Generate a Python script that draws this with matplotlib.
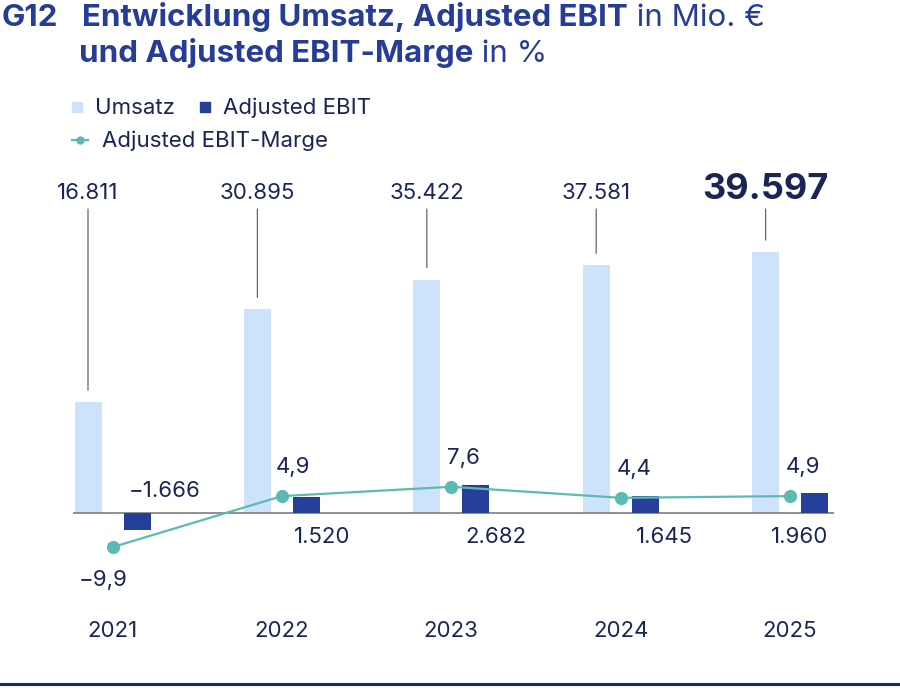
import matplotlib
matplotlib.use("Agg")
import matplotlib.pyplot as plt
from matplotlib.lines import Line2D
from matplotlib.patches import Rectangle
from matplotlib.transforms import blended_transform_factory

plt.rcParams['font.family'] = ['Inter', 'DejaVu Sans']

# --- Daten ---
jahre = ['2021', '2022', '2023', '2024', '2025']
umsatz = [16811, 30895, 35422, 37581, 39597]
ebit = [-1666, 1520, 2682, 1645, 1960]
marge = [-9.9, 4.9, 7.6, 4.4, 4.9]
umsatz_lbl = ['16.811', '30.895', '35.422', '37.581', '39.597']
ebit_lbl = ['\u22121.666', '1.520', '2.682', '1.645', '1.960']
marge_lbl = ['\u22129,9', '4,9', '7,6', '4,4', '4,9']

# --- Farben ---
C_UMSATZ = '#cce3fb'
C_EBIT = '#253f9b'
C_MARGE = '#5dbab2'
C_TITLE = '#263d98'
C_TEXT = '#1a2456'
C_GREY = '#7d7d7d'

W, H = 900, 692
fig = plt.figure(figsize=(W / 100, H / 100), dpi=100)
fig.patch.set_facecolor('white')

def fx(px):
    return px / W

def fy(py):
    return 1 - py / H

# Achse: Pixel 73..834 horizontal, 150..600 vertikal, Nulllinie bei 513
ax_l, ax_r, ax_t, ax_b, y0 = 73, 834, 150, 600, 513
ax = fig.add_axes([fx(ax_l), fy(ax_b), fx(ax_r - ax_l), (ax_b - ax_t) / H])
ax2 = ax.twinx()
ax3 = ax.twinx()

grp = 169.4  # px je Gruppe
first = 112.5
ax.set_xlim((ax_l - first) / grp, (ax_r - first) / grp)

below, above = ax_b - y0, y0 - ax_t
for a, scale in ((ax, 0.00659), (ax2, 0.0103), (ax3, 3.45)):
    a.set_ylim(-below / scale, above / scale)
    a.axis('off')

x = list(range(len(jahre)))
off = 24.5 / grp
bw = 27 / grp

ax.bar([i - off for i in x], umsatz, width=bw, color=C_UMSATZ, zorder=2)
ax2.bar([i + off for i in x], ebit, width=bw, color=C_EBIT, zorder=2)
ax.axhline(0, color=C_GREY, lw=1.2, zorder=3)
ax3.plot(x, marge, color=C_MARGE, lw=1.6, marker='o', ms=8.5, zorder=4)

# Umsatz-Beschriftungen mit Fuehrungslinien
tr_lbl = blended_transform_factory(ax.transData, fig.transFigure)
for i, (v, s) in enumerate(zip(umsatz, umsatz_lbl)):
    last = i == len(umsatz) - 1
    ax.text(i - off, fy(199), s, transform=tr_lbl, ha='center', va='baseline',
            fontsize=26 if last else 16, fontweight='bold' if last else 'normal',
            color=C_TEXT)
    ax.annotate('', xy=(i - off, v), xycoords='data',
                xytext=(i - off, fy(209)), textcoords=tr_lbl,
                arrowprops=dict(arrowstyle='-', color='#666666', lw=0.9,
                                shrinkA=0, shrinkB=12 * 0.72))

# EBIT-Beschriftungen
ebit_dx = [28, 16, 20, 19, -15]
for i, (v, s) in enumerate(zip(ebit, ebit_lbl)):
    dy = 16 if v < 0 else -30
    ax2.annotate(s, xy=(i + off, 0), xytext=(ebit_dx[i], dy),
                 textcoords='offset pixels', ha='center', va='baseline',
                 fontsize=16, color=C_TEXT)

# Margen-Beschriftungen
marge_dx = [-9, 11, 12, 13, 13]
for i, (v, s) in enumerate(zip(marge, marge_lbl)):
    dy = -39 if v < 0 else 23
    ax3.annotate(s, xy=(i, v), xytext=(marge_dx[i], dy),
                 textcoords='offset pixels', ha='center', va='baseline',
                 fontsize=16, color=C_TEXT)

# Jahre
for i, j in enumerate(jahre):
    ax.text(i, fy(637), j, transform=tr_lbl, ha='center', va='baseline',
            fontsize=16, color=C_TEXT)

# Titel
renderer = fig.canvas.get_renderer()

def runs(x_px, y_px, parts, size, color):
    xp = x_px
    for s, w in parts:
        t = fig.text(fx(xp), fy(y_px), s, fontsize=size, fontweight=w,
                     color=color, ha='left', va='baseline')
        bb = t.get_window_extent(renderer=renderer)
        xp = bb.x1

fig.text(fx(2), fy(26), 'G12', fontsize=22.5, fontweight='bold', color=C_TITLE,
         ha='left', va='baseline')
runs(82, 26, [('Entwicklung Umsatz, Adjusted EBIT', 'bold'), (' in Mio. \u20ac', 'normal')], 22.5, C_TITLE)
runs(79, 62, [('und Adjusted EBIT-Marge', 'bold'), (' in %', 'normal')], 22.5, C_TITLE)

# Legende
fig.patches.append(Rectangle((fx(72), fy(112)), fx(10), 10 / H, color=C_UMSATZ,
                             transform=fig.transFigure, figure=fig))
fig.text(fx(95), fy(114), 'Umsatz', fontsize=16, color=C_TEXT, va='baseline')
fig.patches.append(Rectangle((fx(200), fy(112)), fx(10), 10 / H, color=C_EBIT,
                             transform=fig.transFigure, figure=fig))
fig.text(fx(223), fy(114), 'Adjusted EBIT', fontsize=16, color=C_TEXT, va='baseline')
fig.lines.append(Line2D([fx(72), fx(88)], [fy(140), fy(140)], color=C_MARGE, lw=1.6,
                        transform=fig.transFigure, figure=fig))
fig.lines.append(Line2D([fx(80)], [fy(140)], color=C_MARGE, marker='o', ms=5,
                        transform=fig.transFigure, figure=fig))
fig.text(fx(102), fy(147), 'Adjusted EBIT-Marge', fontsize=16, color=C_TEXT, va='baseline')

# Abschlusslinie unten
fig.lines.append(Line2D([0, 1], [fy(683.5), fy(683.5)], color='#1b2a5e', lw=2.2,
                        transform=fig.transFigure, figure=fig))

fig.savefig('out.png', dpi=100)
